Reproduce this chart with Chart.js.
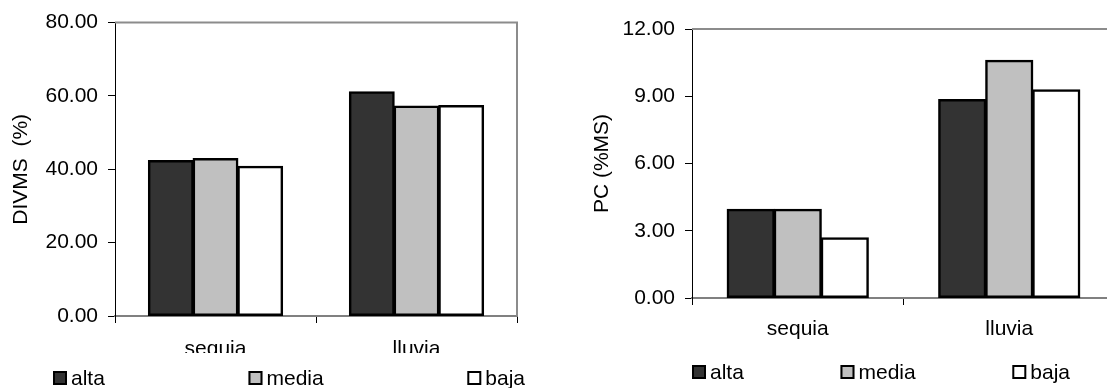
<!DOCTYPE html>
<html>
<head>
<meta charset="utf-8">
<script src="https://cdn.jsdelivr.net/npm/chart.js@4.4.1/dist/chart.umd.min.js"></script>
<style>
  html, body { margin: 0; padding: 0; background: #fff; overflow: hidden; width: 1107px; height: 388px; }
  .box { position: absolute; top: 0; height: 388px; }
  #leftBox { left: 0; width: 585px; }
  #rightBox { left: 585px; width: 555px; }
</style>
</head>
<body>
<div class="box" id="leftBox"><canvas id="divmsChart"></canvas></div>
<div class="box" id="rightBox"><canvas id="pcChart"></canvas></div>
<script>
const categories = ['sequia', 'lluvia'];
const seriesNames = ['alta', 'media', 'baja'];

const divmsAlta = [42.4, 61.1];
const divmsMedia = [42.9, 57.2];
const divmsBaja = [40.8, 57.4];
const divmsTicks = [0, 20, 40, 60, 80];

const pcAlta = [3.96, 8.85];
const pcMedia = [3.96, 10.6];
const pcBaja = [2.68, 9.29];
const pcTicks = [0, 3, 6, 9, 12];

const seriesColors = ['#333333', '#c0c0c0', '#ffffff'];

Chart.defaults.font.family = '"Liberation Sans", Arial, sans-serif';
Chart.defaults.font.size = 21;
Chart.defaults.color = '#000';

// gray frame on top and right of the plot area (excel style)
const plotFrame = {
  id: 'plotFrame',
  beforeDatasetsDraw: (chart) => {
    const { ctx, chartArea } = chart;
    ctx.save();
    ctx.strokeStyle = '#8c8c8c';
    ctx.lineWidth = 2;
    ctx.beginPath();
    ctx.moveTo(chartArea.left, chartArea.top);
    ctx.lineTo(chartArea.right, chartArea.top);
    ctx.lineTo(chartArea.right, chartArea.bottom);
    ctx.stroke();
    ctx.restore();
  }
};

// legend spread over the full width, with white background
const spreadLegend = {
  id: 'spreadLegend',
  afterDraw: (chart, args, opts) => {
    const { ctx } = chart;
    ctx.save();
    ctx.fillStyle = '#fff';
    ctx.fillRect(0, opts.clipTop, chart.width, chart.height - opts.clipTop);
    ctx.font = '21px "Liberation Sans", Arial, sans-serif';
    const items = chart.data.datasets.map(ds => ({
      ds,
      w: opts.box + opts.gap + ctx.measureText(ds.label).width
    }));
    const total = items.reduce((s, it) => s + it.w, 0);
    const space = (opts.right - opts.left - total) / (items.length - 1);
    let x = opts.left;
    items.forEach(({ ds, w }) => {
      ctx.fillStyle = ds.backgroundColor;
      ctx.fillRect(x, opts.y, opts.box, opts.box);
      ctx.lineWidth = 2;
      ctx.strokeStyle = '#000';
      ctx.strokeRect(x + 1, opts.y + 1, opts.box - 2, opts.box - 2);
      ctx.fillStyle = '#000';
      ctx.textBaseline = 'alphabetic';
      ctx.textAlign = 'left';
      ctx.fillText(ds.label, x + opts.box + opts.gap, opts.baseline);
      x += w + space;
    });
    ctx.restore();
  }
};

function makeDatasets(values) {
  return values.map((data, i) => ({
    label: seriesNames[i],
    data,
    backgroundColor: seriesColors[i],
    borderColor: '#000',
    borderWidth: 2.5,
    borderSkipped: false,
    inflateAmount: 0.6,
    categoryPercentage: 0.667,
    barPercentage: 1.0
  }));
}

function makeChart(id, values, yTicks, yTitle, s) {
  return new Chart(document.getElementById(id), {
    type: 'bar',
    data: { labels: categories, datasets: makeDatasets(values) },
    options: {
      responsive: true,
      maintainAspectRatio: false,
      animation: false,
      layout: { padding: { top: s.top, left: 0, right: 0, bottom: 0 } },
      scales: {
        x: {
          grid: { drawOnChartArea: false, tickLength: 7, color: '#000', offset: true },
          border: { color: '#808080', width: 2 },
          ticks: { padding: s.xPad },
          afterFit: (scale) => { scale.height = s.xHeight; }
        },
        y: {
          min: yTicks[0],
          max: yTicks[yTicks.length - 1],
          afterBuildTicks: (scale) => { scale.ticks = yTicks.map(v => ({ value: v })); },
          grid: { drawOnChartArea: false, tickLength: 7, color: '#000' },
          border: { color: '#000', width: 1 },
          ticks: { padding: 10, callback: (v) => Number(v).toFixed(2) },
          title: { display: true, text: yTitle, padding: { top: s.titlePad, bottom: 0 } },
          afterFit: (scale) => { scale.width = s.yWidth; }
        },
        yR: {
          position: 'right',
          grid: { display: false },
          border: { display: false },
          ticks: { display: false },
          afterFit: (scale) => { scale.width = s.rightWidth; }
        }
      },
      plugins: {
        legend: { display: false },
        tooltip: { enabled: false },
        spreadLegend: s.legend
      }
    },
    plugins: [plotFrame, spreadLegend]
  });
}

makeChart('divmsChart', [divmsAlta, divmsMedia, divmsBaja], divmsTicks, 'DIVMS  (%)', {
  top: 20, xHeight: 72, xPad: 14, yWidth: 115, titlePad: 9, rightWidth: 68,
  legend: { left: 53, right: 525, y: 371, box: 14, gap: 4, baseline: 385, clipTop: 353 }
});

makeChart('pcChart', [pcAlta, pcMedia, pcBaja], pcTicks, 'PC (%MS)', {
  top: 29, xHeight: 90, xPad: 12, yWidth: 107, titlePad: 5, rightWidth: 25,
  legend: { left: 107, right: 485, y: 365, box: 14, gap: 4, baseline: 379, clipTop: 348 }
});
</script>
</body>
</html>
